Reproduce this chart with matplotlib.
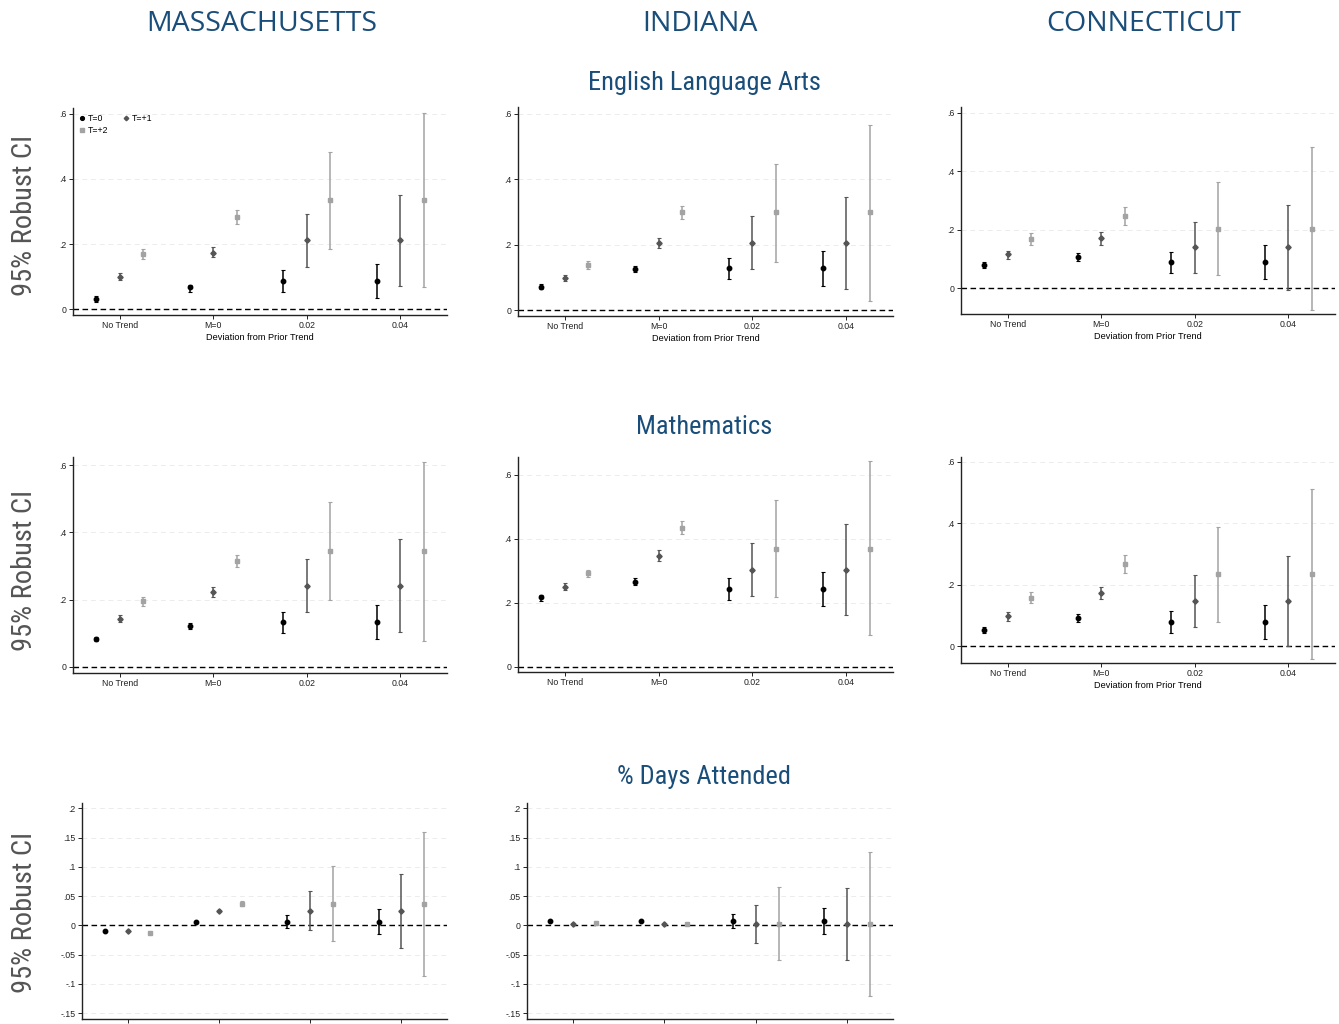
import numpy as np
import matplotlib.pyplot as plt
from matplotlib.lines import Line2D

# categories on the x axis and the three event times
cats = ["No Trend", "M=0", "0.02", "0.04"]
series = ["T=0", "T=+1", "T=+2"]
states = ["MASSACHUSETTS", "INDIANA", "CONNECTICUT"]
outcomes = ["English Language Arts", "Mathematics", "% Days Attended"]

# point estimates, rows = T=0, T=+1, T=+2 ; columns = cats
ma_ela_est = [[0.031, 0.067, 0.085, 0.085], [0.100, 0.174, 0.211, 0.211], [0.170, 0.282, 0.334, 0.334]]
ma_ela_lo = [[0.023, 0.054, 0.052, 0.033], [0.090, 0.159, 0.129, 0.070], [0.155, 0.262, 0.185, 0.067]]
ma_ela_hi = [[0.039, 0.075, 0.119, 0.138], [0.111, 0.190, 0.291, 0.351], [0.186, 0.305, 0.484, 0.603]]

in_ela_est = [[0.072, 0.126, 0.128, 0.128], [0.098, 0.205, 0.205, 0.205], [0.137, 0.299, 0.299, 0.299]]
in_ela_lo = [[0.064, 0.115, 0.095, 0.074], [0.088, 0.189, 0.124, 0.064], [0.124, 0.278, 0.147, 0.028]]
in_ela_hi = [[0.081, 0.136, 0.159, 0.180], [0.108, 0.221, 0.286, 0.346], [0.149, 0.318, 0.447, 0.566]]

ct_ela_est = [[0.078, 0.107, 0.088, 0.088], [0.115, 0.170, 0.139, 0.139], [0.169, 0.248, 0.202, 0.202]]
ct_ela_lo = [[0.067, 0.091, 0.053, 0.031], [0.099, 0.149, 0.052, -0.008], [0.148, 0.217, 0.046, -0.075]]
ct_ela_hi = [[0.089, 0.120, 0.125, 0.146], [0.128, 0.191, 0.225, 0.286], [0.187, 0.279, 0.364, 0.483]]

ma_math_est = [[0.083, 0.123, 0.134, 0.134], [0.143, 0.223, 0.242, 0.242], [0.197, 0.316, 0.344, 0.344]]
ma_math_lo = [[0.076, 0.114, 0.102, 0.082], [0.134, 0.207, 0.162, 0.103], [0.181, 0.298, 0.198, 0.078]]
ma_math_hi = [[0.090, 0.132, 0.164, 0.183], [0.153, 0.237, 0.320, 0.379], [0.209, 0.334, 0.489, 0.609]]

in_math_est = [[0.217, 0.266, 0.243, 0.243], [0.251, 0.348, 0.304, 0.304], [0.292, 0.435, 0.370, 0.370]]
in_math_lo = [[0.207, 0.255, 0.208, 0.190], [0.240, 0.331, 0.221, 0.161], [0.280, 0.414, 0.219, 0.099]]
in_math_hi = [[0.226, 0.277, 0.277, 0.296], [0.263, 0.365, 0.386, 0.447], [0.303, 0.457, 0.521, 0.642]]

ct_math_est = [[0.053, 0.092, 0.079, 0.079], [0.098, 0.173, 0.148, 0.148], [0.157, 0.267, 0.235, 0.235]]
ct_math_lo = [[0.044, 0.077, 0.043, 0.023], [0.083, 0.153, 0.063, 0.002], [0.139, 0.239, 0.079, -0.041]]
ct_math_hi = [[0.063, 0.106, 0.115, 0.135], [0.111, 0.192, 0.233, 0.293], [0.175, 0.296, 0.389, 0.512]]

ma_att_est = [[-0.010, 0.006, 0.006, 0.006], [-0.009, 0.025, 0.025, 0.025], [-0.013, 0.037, 0.037, 0.037]]
ma_att_lo = [[-0.011, 0.005, -0.005, -0.015], [-0.010, 0.024, -0.008, -0.038], [-0.014, 0.033, -0.026, -0.086]]
ma_att_hi = [[-0.009, 0.007, 0.018, 0.028], [-0.008, 0.026, 0.058, 0.087], [-0.012, 0.041, 0.101, 0.160]]

in_att_est = [[0.008, 0.007, 0.007, 0.007], [0.003, 0.002, 0.002, 0.002], [0.004, 0.002, 0.002, 0.002]]
in_att_lo = [[0.007, 0.006, -0.004, -0.014], [0.002, 0.001, -0.030, -0.060], [0.003, 0.001, -0.060, -0.120]]
in_att_hi = [[0.009, 0.008, 0.019, 0.029], [0.004, 0.003, 0.034, 0.064], [0.005, 0.003, 0.065, 0.125]]

W, H = 1339, 1024
blue = "#1a4e7a"
cols = ["#000000", "#555555", "#a3a3a3"]
marks = ["o", "D", "s"]
msize = [3.2, 2.7, 3.1]
offs = [-0.25, 0.0, 0.25]

narrow = ["Roboto Condensed", "Liberation Sans Narrow", "DejaVu Sans"]
tickfont = ["Liberation Sans", "DejaVu Sans"]

fig = plt.figure(figsize=(W / 100, H / 100), dpi=100)


def ax_px(l, r, t, b):
    return fig.add_axes([l / W, 1 - b / H, (r - l) / W, (b - t) / H])


def panel(box, est, lo, hi, ylim, yticks, ylabels, ticklabels=True, xlabel=True, legend=False):
    ax = ax_px(*box)
    x = np.arange(len(cats))
    for k in range(3):
        e = np.array(est[k])
        err = [e - np.array(lo[k]), np.array(hi[k]) - e]
        ax.errorbar(x + offs[k], e, yerr=err, fmt=marks[k], color=cols[k], ms=msize[k],
                    elinewidth=1.1, capsize=1.6, capthick=0.8, zorder=3)
    ax.axhline(0, color="black", ls=(0, (4, 2.5)), lw=1.0, zorder=2)
    for yt in yticks:
        if yt != 0:
            ax.axhline(yt, color="#ececec", ls=(0, (5, 4)), lw=0.7, zorder=1)
    ax.set_xlim(-0.5, 3.5)
    ax.set_ylim(*ylim)
    ax.set_yticks(yticks)
    ax.set_yticklabels(ylabels, fontsize=6.3, family=tickfont)
    ax.set_xticks(x)
    if ticklabels:
        ax.set_xticklabels(cats, fontsize=6.3, family=tickfont)
    else:
        ax.set_xticklabels([])
    if xlabel:
        ax.set_xlabel("Deviation from Prior Trend", fontsize=6.6, family=tickfont, labelpad=2)
    for s in ["top", "right"]:
        ax.spines[s].set_visible(False)
    for s in ["left", "bottom"]:
        ax.spines[s].set_color("#222222")
        ax.spines[s].set_linewidth(1.0)
    ax.tick_params(length=3, width=0.7, pad=1.5, colors="#222222")
    if legend:
        hd = [Line2D([], [], ls="none", marker=marks[k], color=cols[k], ms=msize[k] * 0.85)
              for k in range(3)]
        ax.legend([hd[0], hd[2], hd[1]], [series[0], series[2], series[1]], ncol=2,
                  loc="upper left", frameon=False, handlelength=0.6, handletextpad=0.4,
                  columnspacing=1.7, labelspacing=0.35, borderaxespad=0.3,
                  prop={"family": tickfont, "size": 6.3})
    return ax


t6 = [0, 0.2, 0.4, 0.6]
l6 = ["0", ".2", ".4", ".6"]
ta = [-0.15, -0.1, -0.05, 0, 0.05, 0.1, 0.15, 0.2]
la = ["-.15", "-.1", "-.05", "0", ".05", ".1", ".15", ".2"]

# row 1: English Language Arts
panel((73, 447, 108, 315), ma_ela_est, ma_ela_lo, ma_ela_hi, (-0.018, 0.618), t6, l6, legend=True)
panel((518, 893, 107, 316), in_ela_est, in_ela_lo, in_ela_hi, (-0.018, 0.62), t6, l6)
panel((961, 1335, 107, 314), ct_ela_est, ct_ela_lo, ct_ela_hi, (-0.089, 0.62), t6, l6)

# row 2: Mathematics
panel((73, 447, 457, 673), ma_math_est, ma_math_lo, ma_math_hi, (-0.018, 0.624), t6, l6, xlabel=False)
panel((518, 893, 457, 672), in_math_est, in_math_lo, in_math_hi, (-0.016, 0.656), t6, l6, xlabel=False)
panel((961, 1335, 457, 663), ct_math_est, ct_math_lo, ct_math_hi, (-0.055, 0.616), t6, l6)

# row 3: attendance
panel((82, 447, 803, 1019), ma_att_est, ma_att_lo, ma_att_hi, (-0.16, 0.209), ta, la,
      ticklabels=False, xlabel=False)
panel((527, 893, 803, 1019), in_att_est, in_att_lo, in_att_hi, (-0.16, 0.209), ta, la,
      ticklabels=False, xlabel=False)

# headers
for name, xc in zip(states, [262, 700, 1144]):
    fig.text(xc / W, 1 - 24 / H, name, ha="center", va="center", fontsize=20.5,
             color=blue, family=["Open Sans", "DejaVu Sans"])
for name, yc in zip(outcomes, [83, 427, 777]):
    fig.text(704 / W, 1 - yc / H, name, ha="center", va="center", fontsize=19,
             color=blue, family=narrow, stretch="condensed", weight="normal")
for yc in [215, 570, 912]:
    fig.text(25 / W, 1 - yc / H, "95% Robust CI", ha="center", va="center", rotation=90,
             fontsize=20.5, color="#555555", family=narrow, stretch="condensed", weight="normal")

fig.savefig("out.png", dpi=100)
